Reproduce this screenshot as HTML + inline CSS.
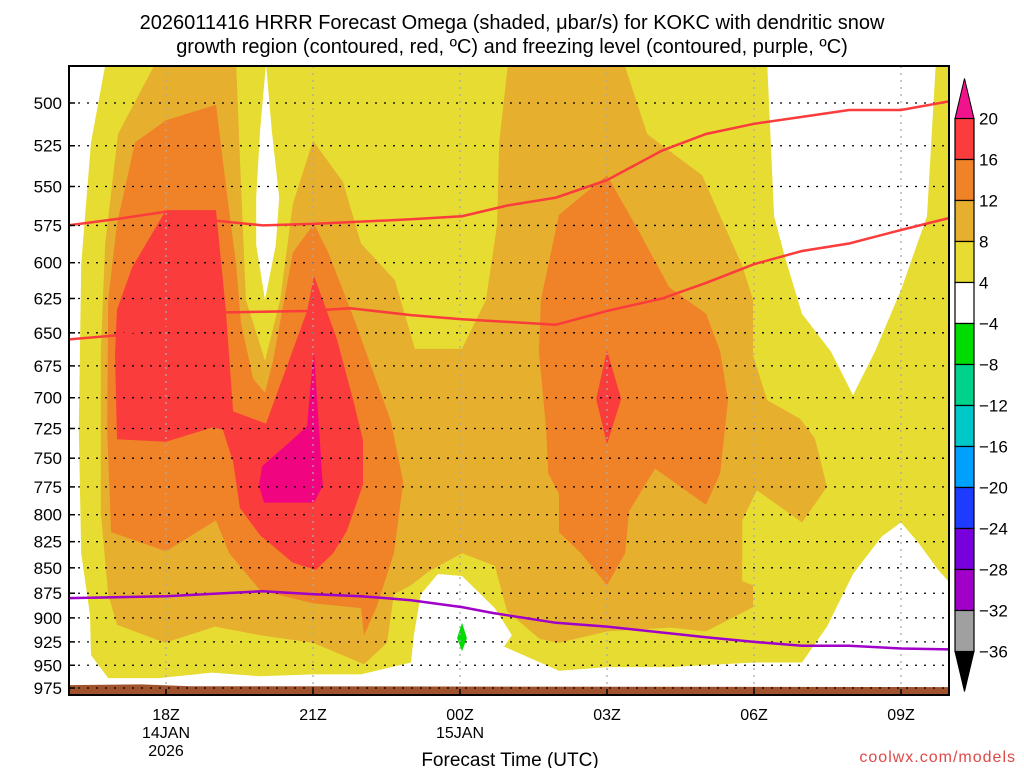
<!DOCTYPE html>
<html><head><meta charset="utf-8"><style>
body{margin:0;background:#fff;width:1024px;height:768px;overflow:hidden}
svg text{font-family:"Liberation Sans",sans-serif}
</style></head><body>
<svg id="chart" width="1024" height="768" xmlns="http://www.w3.org/2000/svg">
<text x="512" y="29" font-size="20" text-anchor="middle" fill="#000">2026011416 HRRR Forecast Omega (shaded, μbar/s) for KOKC with dendritic snow</text>
<text x="512" y="53" font-size="20" text-anchor="middle" fill="#000">growth region (contoured, red, ºC) and freezing level (contoured, purple, ºC)</text>
<defs><clipPath id="pc"><rect x="69" y="66" width="880" height="629"/></clipPath></defs>
<g id="plot" clip-path="url(#pc)"></g>
<g id="axes"></g>
<g id="cbar"></g>
<text x="510" y="766" font-size="19" text-anchor="middle">Forecast Time (UTC)</text>
<text x="1016" y="762" font-size="16" text-anchor="end" fill="#e04848" font-family="Liberation Mono" letter-spacing="1">coolwx.com/models</text>
</svg>
<script>
const pressureLevels=[500,525,550,575,600,625,650,675,700,725,750,775,800,825,850,875,900,925,950,975];
const timeTickHours=[2,5,8,11,14,17];
const timeTickLabels=["18Z","21Z","00Z","03Z","06Z","09Z"];
const dateLabels=[["14JAN","2026"],[],["15JAN"],[],[],[]];
const cbarLevels=["20","16","12","8","4","\u22124","\u22128","\u221212","\u221216","\u221220","\u221224","\u221228","\u221232","\u221236"];
const cbarColors=["#fa3c3c","#f08228","#e6af2d","#e6dc32","#ffffff","#00dc00","#00d28c","#00c8c8","#00a0ff","#1e3cff","#7800dc","#a000c8","#a0a0a0"];
const yellowRegion=[[0.76,479],[18.2,479],[18.2,876],[17.76,852],[17.37,827],[17,807],[16.61,820],[16.02,856],[15.49,909],[14.98,947],[14,947],[12.29,952],[11,952],[10.02,956],[8.9,930],[9.06,918],[8.71,890],[8.04,858],[7.55,856],[7.2,876],[7.06,918],[7,947],[5.98,960],[5,960],[3.92,962],[2.94,958],[1.86,964],[0.82,964],[0.47,939],[0.45,897],[0.27,836],[0.22,726],[0.27,601],[0.47,523]];
const whiteSpike=[[4.04,478],[4.16,516],[4.31,557],[4.24,588],[4.02,626],[3.84,588],[3.84,557],[3.92,516]];
const whiteRightHole=[[14.27,478],[14.41,569],[14.63,596],[14.98,636],[15.57,664],[16.02,698],[16.47,664],[17,619],[17.53,569],[17.71,478]];
const lightOrangeRegion=[[8.04,662],[8.53,626],[8.76,574],[8.8,523],[8.98,478],[11.35,478],[11.82,518],[12.27,528],[12.94,543],[13.31,569],[13.76,602],[13.98,626],[13.98,667],[14.27,702],[14.94,717],[15.24,733],[15.49,775],[14.98,807],[14.06,778],[13.76,805],[13.76,863],[13.98,867],[13.98,889],[13.02,914],[12.29,910],[11,914],[10.02,926],[9.63,922],[8.96,893],[8.71,848],[8.04,836],[7.35,854],[7,867],[6.65,876],[6.51,926],[6.04,949],[5,926],[3.92,918],[3,909],[1.98,926],[1,907],[0.82,876],[0.67,798],[0.67,664],[0.76,587],[1.02,518],[1.78,478],[3.43,478],[3.53,549],[3.63,626],[4.02,671],[4.33,626],[4.59,561],[5,522],[5.61,547],[5.98,587],[6.67,612],[7.08,662]];
const orangeLeft=[[3.02,501],[2,510],[1.37,523],[1,574],[0.82,626],[0.8,726],[0.88,816],[2,834],[3.02,805],[3.29,836],[3.92,872],[5,885],[5.98,890],[6.04,918],[6.29,890],[6.65,836],[6.84,771],[6.59,719],[5.84,640],[5.31,593],[5.02,574],[4.59,593],[4.18,672],[4.02,696],[3.78,685],[3.53,643],[3.43,601],[3.22,549]];
const orangeRight=[[11,543],[10.02,568],[9.65,626],[9.61,664],[9.76,726],[9.8,763],[10.02,781],[10.02,816],[10.47,836],[11,867],[11.37,836],[11.45,797],[11.98,759],[13.02,791],[13.31,763],[13.47,702],[13.31,664],[13.02,636],[12.27,617],[11.67,580]];
const redLeft=[[1,633],[1.31,603],[2,565],[3.02,565],[3.22,633],[3.37,711],[4.04,721],[4.88,634],[5.02,609],[5.49,655],[5.84,705],[6.02,735],[6.02,773],[5.69,815],[5.41,836],[5.06,852],[4.59,845],[3.92,819],[3.51,794],[3.37,753],[3.16,726],[2.96,724],[2,736],[1,734],[0.96,666]];
const magentaRegion=[[5.02,664],[5.1,711],[5.2,774],[5.02,789],[4,789],[3.9,774],[3.96,757],[4.59,734],[4.88,723],[4.94,694]];
const redDiamond=[[11,663],[11.29,701],[11,738],[10.78,701]];
const greenBlob=[[8.04,905],[8.14,921],[8.04,935],[7.94,921]];
const terrain=[[-0.2,972],[1.5,971],[2.5,973],[18.2,974],[18.2,1000],[-0.2,1000]];
const dgzUpper=[[0,575],[0.96,571],[2,566],[3.02,572],[3.98,575],[5,574],[7,571],[8.04,569],[8.98,562],[9.96,557],[11,546],[12.12,528],[13.02,518],[14,512],[14.98,508],[15.94,504],[17,504],[18,499]];
const dgzLower=[[0,655],[0.96,652],[3.22,635],[4.88,634],[5.76,632],[7,637],[8.04,640],[9.96,644],[11,634],[12.12,625],[13.02,614],[14,601],[14.98,592],[15.94,587],[17,578],[18,570]];
const freezingLevel=[[0,880],[2,878],[3.98,873],[5.02,876],[5.98,878],[7,882],[8.04,889],[8.67,895],[9.96,905],[11,909],[13.02,920],[14,925],[14.98,929],[15.94,929],[17,932],[18,933]];

const NS="http://www.w3.org/2000/svg";
const X=h=>68+49*h;
const Y=p=>103+876*Math.log(p/500);
function mk(tag,attrs,parent){const e=document.createElementNS(NS,tag);for(const k in attrs)e.setAttribute(k,attrs[k]);parent.appendChild(e);return e;}
const plot=document.getElementById('plot'),axes=document.getElementById('axes'),cbar=document.getElementById('cbar');
const pts=a=>a.map(d=>X(d[0]).toFixed(1)+","+Y(d[1]).toFixed(1)).join(" ");
mk('rect',{x:69,y:66,width:880,height:629,fill:'#fff'},plot);
const fills=[[yellowRegion,'#e6dc32','fill-4-to-8'],[whiteSpike,'#ffffff','fill-white-spike'],[whiteRightHole,'#ffffff','fill-white-right'],[lightOrangeRegion,'#e6af2d','fill-8-to-12'],[orangeLeft,'#f08228','fill-12-to-16-left'],[orangeRight,'#f08228','fill-12-to-16-right'],[redLeft,'#fa3c3c','fill-16-to-20'],[magentaRegion,'#f0047f','fill-above-20'],[redDiamond,'#fa3c3c','fill-16-to-20-diamond'],[greenBlob,'#00dc00','fill-minus-4-to-8'],[terrain,'#a0522d','terrain']];
fills.forEach(f=>{const e=mk('polygon',{points:pts(f[0]),fill:f[1]},plot);

});
pressureLevels.forEach(p=>{const e=mk('line',{x1:69,x2:949,y1:Y(p),y2:Y(p),stroke:'#000','stroke-width':1.3,'stroke-dasharray':'2,7'},plot);

});
timeTickHours.forEach(h=>{const e=mk('line',{x1:X(h),x2:X(h),y1:66,y2:695,stroke:'#aaa','stroke-width':1.3,'stroke-dasharray':'2,5'},plot);

});
[[dgzUpper,'#fa3c3c','dgz-contour-upper'],[dgzLower,'#fa3c3c','dgz-contour-lower'],[freezingLevel,'#a000c8','freezing-level-contour']].forEach(l=>{const e=mk('polyline',{points:pts(l[0]),fill:'none',stroke:l[1],'stroke-width':2.5},plot);

});
mk('rect',{x:69,y:66,width:880,height:629,fill:'none',stroke:'#000','stroke-width':2},axes);
pressureLevels.forEach(p=>{const t=mk('text',{x:62,y:Y(p)+6,'font-size':17,'text-anchor':'end'},axes);t.textContent=p;


mk('line',{x1:69,x2:75,y1:Y(p),y2:Y(p),stroke:'#000','stroke-width':1.5},axes);});
timeTickHours.forEach((h,i)=>{mk('line',{x1:X(h),x2:X(h),y1:689,y2:695,stroke:'#000','stroke-width':1.5},axes);
const t=mk('text',{x:X(h),y:720,'font-size':16,'text-anchor':'middle'},axes);t.textContent=timeTickLabels[i];


dateLabels[i].forEach((d,j)=>{const s=mk('text',{x:X(h),y:738+j*18,'font-size':16,'text-anchor':'middle'},axes);s.textContent=d;

});});
const cx=955,cw=19,c0=118.5,ch=41;
mk('polygon',{points:`${cx},${c0} ${cx+cw},${c0} ${cx+cw/2},${c0-40}`,fill:'#f0148c',stroke:'#000'},cbar);
cbarColors.forEach((c,i)=>{const r=mk('rect',{x:cx,y:c0+i*ch,width:cw,height:ch,fill:c,stroke:'#000','stroke-width':1.2},cbar);

});
const cb=c0+cbarColors.length*ch;
mk('polygon',{points:`${cx},${cb} ${cx+cw},${cb} ${cx+cw/2},${cb+40}`,fill:'#000',stroke:'#000'},cbar);
cbarLevels.forEach((l,i)=>{const t=mk('text',{x:979,y:c0+i*ch+6,'font-size':17},cbar);t.textContent=l;

});
</script>
</body></html>
